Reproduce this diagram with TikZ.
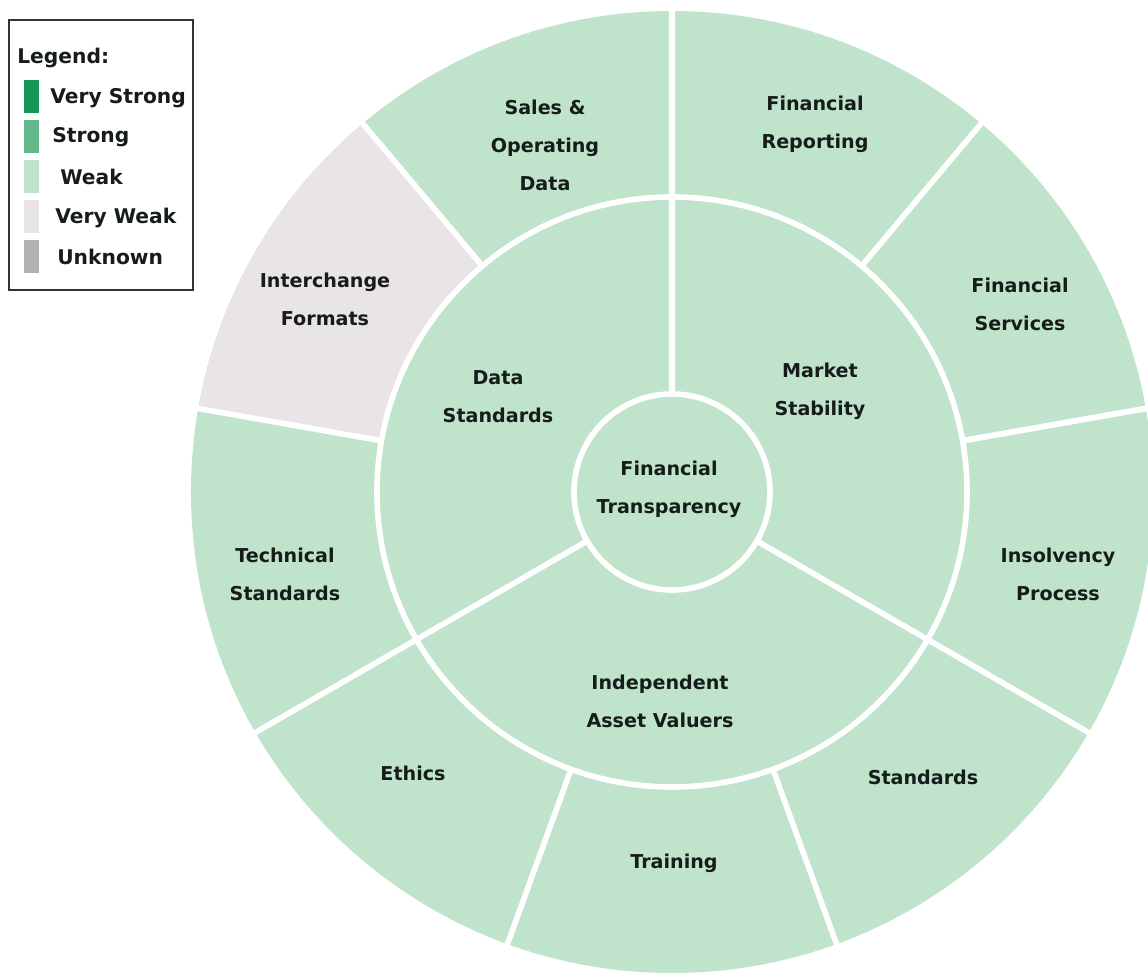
\documentclass[tikz,border=0pt]{standalone}
\usepackage{fontspec}
\setmainfont{DejaVu Sans}
\definecolor{vstrong}{RGB}{22, 150, 82}
\definecolor{strong}{RGB}{98, 184, 138}
\definecolor{weak}{RGB}{192, 227, 204}
\definecolor{vweak}{RGB}{233, 228, 230}
\definecolor{unknown}{RGB}{178, 178, 178}
\definecolor{txtdark}{RGB}{22, 28, 26}
\tikzset{
    seglabel/.style={font=\fontsize{13.6}{27}\selectfont\bfseries, text=txtdark, align=center},
    keylabel/.style={seglabel, font=\fontsize{14.4}{27}\selectfont\bfseries, anchor=west, inner sep=0pt},
    gap/.style={draw=white, line width=4pt},
    legendbox/.style={draw=black!80, line width=1.6pt},
}
\begin{document}
\begin{tikzpicture}[scale=0.25]
    \useasboundingbox (-67.2, -48.4) rectangle (47.6, 49.2);

    % rings
    \fill[weak] (0, 0) circle (48.1);
    \fill[vweak] (0, 0) -- (130:48.1) arc (130:170:48.1) -- cycle;
    \fill[weak] (0, 0) circle (29.5);
    \draw[gap] (0, 0) circle (29.5);
    \draw[gap] (0, 0) circle (9.8);
    \foreach \a in {10, 50, ..., 370}
        \draw[gap] (\a:29.5) -- (\a:49);
    \foreach \a in {90, 210, 330}
        \draw[gap] (\a:9.8) -- (\a:29.5);

    \node[seglabel] (core) at (-0.3, 0.3) {Financial\\Transparency};

    \node[seglabel] (datastd) at (-17.4, 9.5) {Data\\Standards};
    \node[seglabel] (market) at (14.8, 10.1) {Market\\Stability};
    \node[seglabel] (valuers) at (-1.2, -20.9) {Independent\\Asset Valuers};

    \node[seglabel] (sales) at (-12.7, 34.7) {Sales \&\\Operating\\Data};
    \node[seglabel] (reporting) at (14.3, 36.8) {Financial\\Reporting};
    \node[seglabel] (services) at (34.8, 18.8) {Financial\\Services};
    \node[seglabel] (insolvency) at (38.6, -8.2) {Insolvency\\Process};
    \node[seglabel] (standards) at (25.1, -28.5) {Standards};
    \node[seglabel] (training) at (0.2, -37.1) {Training};
    \node[seglabel] (ethics) at (-25.9, -28.1) {Ethics};
    \node[seglabel] (technical) at (-38.7, -8.2) {Technical\\Standards};
    \node[seglabel] (interchange) at (-34.7, 19.3) {Interchange\\Formats};

    % legend
    \draw[legendbox] (-66.3, 47.2) rectangle (-47.9, 20.2);
    \node[keylabel] (legend) at (-65.5, 43.4) {Legend:};
    \fill[vstrong] (-64.8, 41.2) rectangle (-63.3, 37.9);
    \fill[strong] (-64.8, 37.2) rectangle (-63.3, 33.9);
    \fill[weak] (-64.8, 33.2) rectangle (-63.3, 29.9);
    \fill[vweak] (-64.8, 29.2) rectangle (-63.3, 25.9);
    \fill[unknown] (-64.8, 25.2) rectangle (-63.3, 21.9);
    \node[keylabel] (kvstrong) at (-62.2, 39.4) {Very Strong};
    \node[keylabel] (kstrong) at (-62.0, 35.5) {Strong};
    \node[keylabel] (kweak) at (-61.2, 31.5) {Weak};
    \node[keylabel] (kvweak) at (-61.7, 27.4) {Very Weak};
    \node[keylabel] (kunknown) at (-61.5, 23.5) {Unknown};
\end{tikzpicture}
\end{document}
